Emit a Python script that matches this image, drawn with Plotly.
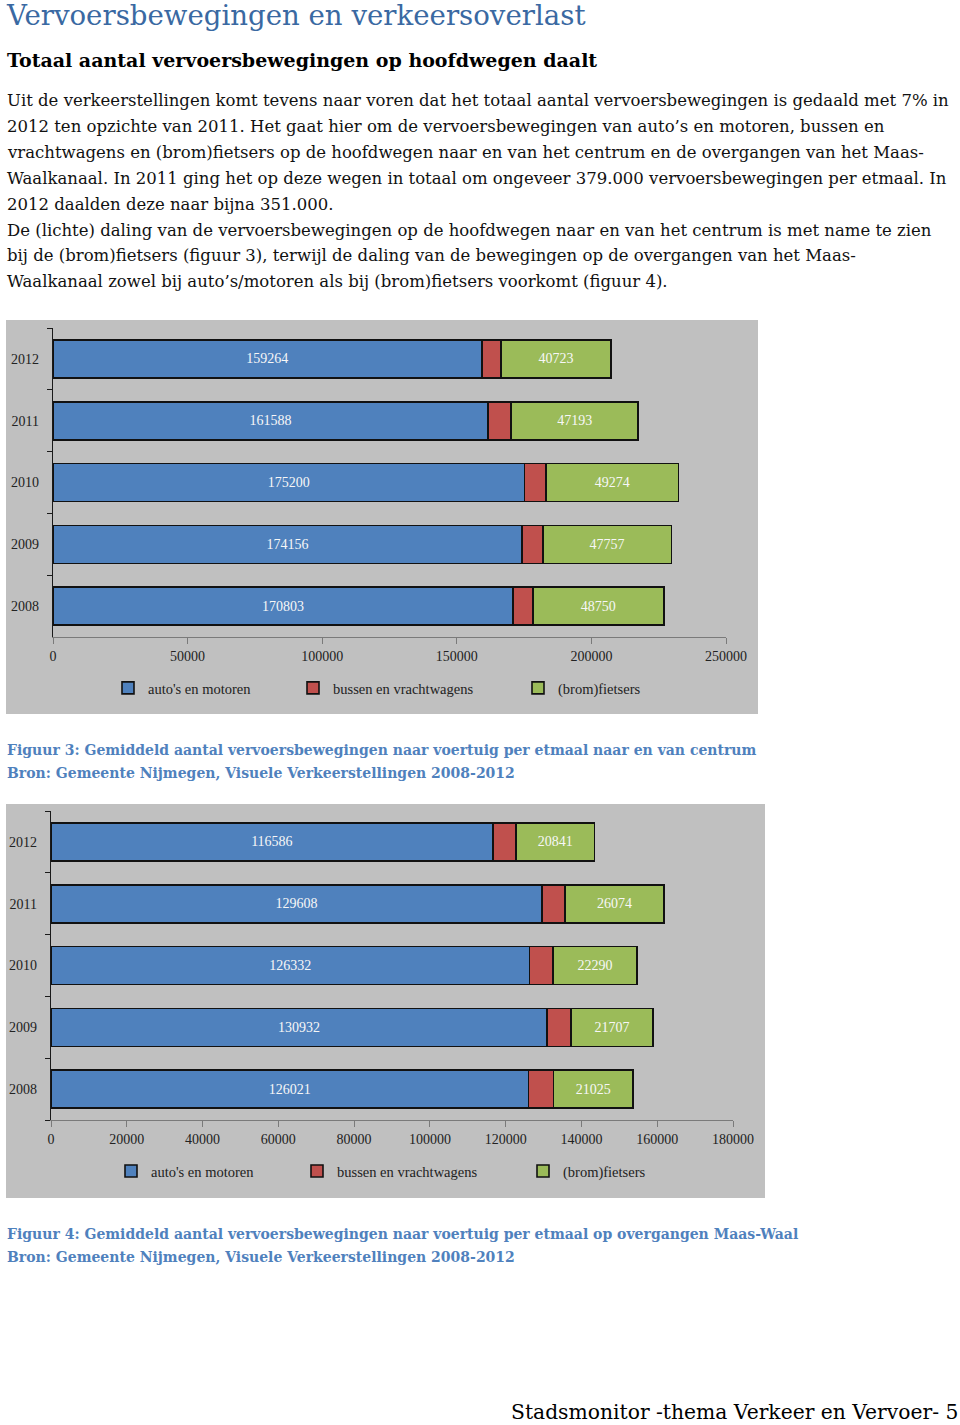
import plotly.graph_objects as go

W, H = 960, 1425

# ---------------- data ----------------
years = ["2012", "2011", "2010", "2009", "2008"]
series_names = ["auto's en motoren", "bussen en vrachtwagens", "(brom)fietsers"]
series_colors = ["#4F81BD", "#C0504D", "#9BBB59"]

fig3_auto = [159264, 161588, 175200, 174156, 170803]
fig3_bus = [7200, 8600, 7900, 7800, 7400]
fig3_fiets = [40723, 47193, 49274, 47757, 48750]
fig3_ticks = [0, 50000, 100000, 150000, 200000, 250000]

fig4_auto = [116586, 129608, 126332, 130932, 126021]
fig4_bus = [6070, 6070, 6100, 6300, 6600]
fig4_fiets = [20841, 26074, 22290, 21707, 21025]
fig4_ticks = [0, 20000, 40000, 60000, 80000, 100000, 120000, 140000, 160000, 180000]

title_text = "Vervoersbewegingen en verkeersoverlast"
subtitle_text = "Totaal aantal vervoersbewegingen op hoofdwegen daalt"
paragraph_lines = [
    "Uit de verkeerstellingen komt tevens naar voren dat het totaal aantal vervoersbewegingen is gedaald met 7% in",
    "2012 ten opzichte van 2011. Het gaat hier om de vervoersbewegingen van auto\u2019s en motoren, bussen en",
    "vrachtwagens en (brom)fietsers op de hoofdwegen naar en van het centrum en de overgangen van het Maas-",
    "Waalkanaal. In 2011 ging het op deze wegen in totaal om ongeveer 379.000 vervoersbewegingen per etmaal. In",
    "2012 daalden deze naar bijna 351.000.",
    "De (lichte) daling van de vervoersbewegingen op de hoofdwegen naar en van het centrum is met name te zien",
    "bij de (brom)fietsers (figuur 3), terwijl de daling van de bewegingen op de overgangen van het Maas-",
    "Waalkanaal zowel bij auto\u2019s/motoren als bij (brom)fietsers voorkomt (figuur 4).",
]
caption3 = ["Figuur 3: Gemiddeld aantal vervoersbewegingen naar voertuig per etmaal naar en van centrum",
            "Bron: Gemeente Nijmegen, Visuele Verkeerstellingen 2008-2012"]
caption4 = ["Figuur 4: Gemiddeld aantal vervoersbewegingen naar voertuig per etmaal op overgangen Maas-Waal",
            "Bron: Gemeente Nijmegen, Visuele Verkeerstellingen 2008-2012"]
footer_text = "Stadsmonitor -thema Verkeer en Vervoer- 5"

CHART_FONT = "Liberation Serif"
TEXT_FONT = "DejaVu Serif"


def px_x(x):
    return x / W


def px_y(y):
    return 1 - y / H


fig = go.Figure()

charts = [
    dict(auto=fig3_auto, bus=fig3_bus, fiets=fig3_fiets, ticks=fig3_ticks, xmax=250000,
         xdom=(53, 726), ydom=(328, 637), box=(6, 320, 758, 714),
         leg_x=[128, 313, 538], leg_y=688, xa="x", ya="y"),
    dict(auto=fig4_auto, bus=fig4_bus, fiets=fig4_fiets, ticks=fig4_ticks, xmax=180000,
         xdom=(51, 733), ydom=(811, 1120), box=(6, 804, 765, 1198),
         leg_x=[131, 317, 543], leg_y=1171, xa="x2", ya="y2"),
]

legend_count = 0
layout_extra = {}
shapes = []
for ci, ch in enumerate(charts):
    vals = [ch["auto"], ch["bus"], ch["fiets"]]
    for si in range(3):
        legend_count += 1
        lname = "legend" if legend_count == 1 else f"legend{legend_count}"
        show_text = si != 1
        fig.add_trace(go.Bar(
            y=years, x=vals[si], orientation="h", name=series_names[si],
            marker=dict(color=series_colors[si], line=dict(color="#111111", width=1.6)),
            text=[str(v) for v in vals[si]] if show_text else None,
            textposition="inside" if show_text else "none",
            insidetextanchor="middle",
            textfont=dict(family=CHART_FONT, size=14, color="#F7F7F7"),
            constraintext="none",
            xaxis=ch["xa"], yaxis=ch["ya"], legend=lname, showlegend=True,
            hoverinfo="skip",
        ))
        layout_extra[lname] = dict(
            x=px_x(ch["leg_x"][si] - 20), y=px_y(ch["leg_y"]), xanchor="left", yanchor="middle",
            bgcolor="rgba(0,0,0,0)", borderwidth=0, orientation="h", itemwidth=30,
            font=dict(family=CHART_FONT, size=14.5, color="#222222"), itemclick=False,
            tracegroupgap=0,
        )
    x0, y0, x1, y1 = ch["box"]
    shapes.append(dict(type="rect", xref="paper", yref="paper", x0=px_x(x0), x1=px_x(x1),
                       y0=px_y(y1), y1=px_y(y0), fillcolor="#C0C0C0", line=dict(width=0),
                       layer="below"))
    xkey = "xaxis" if ci == 0 else "xaxis2"
    ykey = "yaxis" if ci == 0 else "yaxis2"
    layout_extra[xkey] = dict(
        domain=[px_x(ch["xdom"][0]), px_x(ch["xdom"][1])], range=[0, ch["xmax"]],
        tickvals=ch["ticks"], ticktext=[str(t) for t in ch["ticks"]],
        showline=True, linecolor="#7A7A7A", linewidth=1.2, ticks="outside", ticklen=6,
        tickcolor="#7A7A7A", showgrid=False, zeroline=False, anchor=ch["ya"],
        tickfont=dict(family=CHART_FONT, size=14, color="#222222"), fixedrange=True,
        automargin=False,
    )
    layout_extra[ykey] = dict(
        domain=[px_y(ch["ydom"][1]), px_y(ch["ydom"][0])], type="category",
        categoryorder="array", categoryarray=years[::-1], range=[-0.5, 4.5],
        showline=True, linecolor="#1A1A1A", linewidth=1.2, ticks="outside", ticklen=5,
        tickcolor="#1A1A1A", tickson="boundaries", showgrid=False, zeroline=False,
        anchor=ch["xa"], tickfont=dict(family=CHART_FONT, size=14, color="#222222"),
        ticklabelstandoff=10, fixedrange=True, automargin=False,
    )

annotations = []


def add_text(txt, x, y, size, color, bold=False, anchor="left", family=TEXT_FONT):
    annotations.append(dict(
        text=f"<b>{txt}</b>" if bold else txt, x=px_x(x), y=px_y(y), xref="paper", yref="paper",
        xanchor=anchor, yanchor="middle", showarrow=False,
        font=dict(family=family, size=size, color=color),
    ))


add_text(title_text, 4, 16, 27.6, "#3A69A2")
add_text(subtitle_text, 5, 60, 19, "#000000", bold=True)
for i, line in enumerate(paragraph_lines):
    add_text(line, 5, 100 + 26 * i, 16.5, "#111111")
add_text(caption3[0], 5, 750, 14, "#4F81BD", bold=True)
add_text(caption3[1], 5, 773, 14, "#4F81BD", bold=True)
add_text(caption4[0], 5, 1234, 14, "#4F81BD", bold=True)
add_text(caption4[1], 5, 1257, 14, "#4F81BD", bold=True)
add_text(footer_text, 960, 1412, 20.3, "#000000", anchor="right")

fig.update_layout(
    width=W, height=H, autosize=False,
    margin=dict(l=0, r=0, t=0, b=0, autoexpand=False),
    paper_bgcolor="#FFFFFF", plot_bgcolor="rgba(0,0,0,0)",
    barmode="stack", bargap=0.385, showlegend=True,
    shapes=shapes, annotations=annotations,
    **layout_extra,
)

fig.write_html(
    "out.html",
    config={"responsive": False, "displayModeBar": False},
    post_script="document.body.style.margin='0';document.body.style.overflow='hidden';",
)
